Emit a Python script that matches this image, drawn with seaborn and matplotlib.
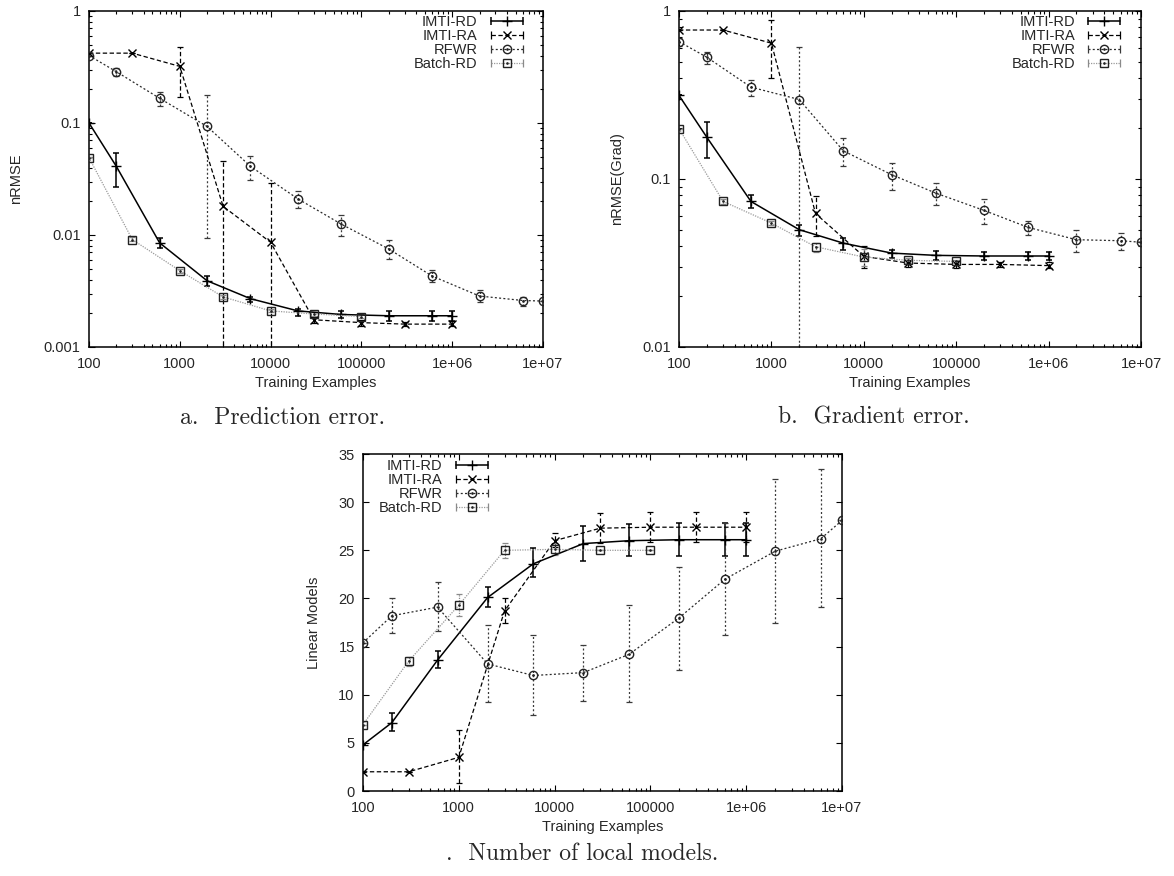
import numpy as np
import pandas as pd
import seaborn as sns
from matplotlib import pyplot as plt
from matplotlib.lines import Line2D
from matplotlib.legend_handler import HandlerLine2D
from matplotlib.ticker import FixedLocator, FixedFormatter, LogLocator, NullFormatter, NullLocator

# training set sizes for each method
X_RD = [100, 200, 600, 2000, 6000, 20000, 60000, 200000, 600000, 1e6]
X_RA = [100, 300, 1000, 3000, 10000, 30000, 100000, 300000, 1e6]
X_RFWR = [100, 200, 600, 2000, 6000, 20000, 60000, 200000, 600000, 2e6, 6e6, 1e7]
X_BATCH = [100, 300, 1000, 3000, 10000, 30000, 100000]

# a. prediction error (nRMSE)
A_RD = [0.1, 0.041, 0.0085, 0.0039, 0.0027, 0.0021, 0.00195, 0.0019, 0.0019, 0.0019]
A_RD_LO = [0.1, 0.027, 0.0076, 0.0035, 0.0025, 0.0019, 0.0018, 0.0017, 0.0017, 0.0017]
A_RD_HI = [0.1, 0.054, 0.0094, 0.0043, 0.0028, 0.0022, 0.0021, 0.0021, 0.0021, 0.0021]
A_RA = [0.42, 0.42, 0.32, 0.018, 0.0086, 0.00175, 0.00165, 0.0016, 0.0016]
A_RA_LO = [0.42, 0.42, 0.172, 0.0009, 0.0009, 0.00165, 0.00155, 0.00155, 0.00153]
A_RA_HI = [0.42, 0.42, 0.474, 0.046, 0.029, 0.00185, 0.00175, 0.00168, 0.0017]
A_RFWR = [0.40, 0.287, 0.166, 0.093, 0.041, 0.021, 0.0125, 0.0075, 0.0043, 0.00285, 0.0026, 0.00257]
A_RFWR_LO = [0.40, 0.26, 0.142, 0.0094, 0.031, 0.0174, 0.0098, 0.0061, 0.0038, 0.0025, 0.0023, 0.00257]
A_RFWR_HI = [0.40, 0.31, 0.19, 0.178, 0.051, 0.0245, 0.0151, 0.009, 0.0049, 0.0032, 0.0028, 0.00257]
A_BATCH = [0.049, 0.0091, 0.0048, 0.0028, 0.0021, 0.00197, 0.00187]
A_BATCH_LO = [0.049, 0.0088, 0.0046, 0.0027, 0.00205, 0.0019, 0.0018]
A_BATCH_HI = [0.05, 0.0095, 0.005, 0.0029, 0.0022, 0.00205, 0.00195]

# b. gradient error
B_RD = [0.314, 0.177, 0.0735, 0.0499, 0.0415, 0.0362, 0.0351, 0.0348, 0.0348, 0.0348]
B_RD_LO = [0.314, 0.133, 0.067, 0.046, 0.0377, 0.034, 0.033, 0.033, 0.033, 0.033]
B_RD_HI = [0.314, 0.218, 0.08, 0.053, 0.0445, 0.038, 0.0375, 0.037, 0.037, 0.037]
B_RA = [0.77, 0.77, 0.643, 0.0623, 0.0346, 0.0316, 0.031, 0.031, 0.0305]
B_RA_LO = [0.77, 0.77, 0.40, 0.046, 0.0296, 0.030, 0.0295, 0.0298, 0.0295]
B_RA_HI = [0.77, 0.77, 0.88, 0.079, 0.0397, 0.033, 0.0325, 0.0322, 0.032]
B_RFWR = [0.657, 0.53, 0.352, 0.297, 0.147, 0.106, 0.0824, 0.065, 0.0515, 0.0435, 0.0429, 0.042]
B_RFWR_LO = [0.62, 0.484, 0.312, 0.009, 0.12, 0.086, 0.07, 0.054, 0.0464, 0.037, 0.038, 0.042]
B_RFWR_HI = [0.69, 0.573, 0.389, 0.614, 0.175, 0.125, 0.094, 0.076, 0.0565, 0.05, 0.0475, 0.042]
B_BATCH = [0.199, 0.0735, 0.0546, 0.0395, 0.0343, 0.0328, 0.0323]
B_BATCH_LO = [0.199, 0.071, 0.053, 0.037, 0.0305, 0.0318, 0.0315]
B_BATCH_HI = [0.199, 0.076, 0.0565, 0.0415, 0.0385, 0.034, 0.033]

# c. number of local models
C_RD = [4.8, 7.1, 13.6, 20.1, 23.6, 25.7, 26.0, 26.1, 26.1, 26.1]
C_RD_LO = [4.8, 6.2, 12.8, 19.1, 22.2, 23.9, 24.4, 24.4, 24.4, 24.4]
C_RD_HI = [4.8, 8.1, 14.5, 21.2, 25.2, 27.5, 27.7, 27.8, 27.8, 27.8]
C_RA = [2.0, 2.0, 3.5, 18.7, 26.0, 27.3, 27.4, 27.4, 27.4]
C_RA_LO = [2.0, 2.0, 0.8, 17.4, 25.3, 25.8, 25.9, 25.9, 25.9]
C_RA_HI = [2.0, 2.0, 6.3, 20.0, 26.8, 28.9, 29.0, 29.0, 29.0]
C_RFWR = [15.4, 18.2, 19.1, 13.2, 12.0, 12.3, 14.2, 18.0, 22.0, 24.9, 26.2, 28.1]
C_RFWR_LO = [15.4, 16.4, 16.6, 9.2, 7.9, 9.4, 9.2, 12.6, 16.2, 17.4, 19.1, 28.1]
C_RFWR_HI = [15.4, 20.0, 21.7, 17.2, 16.2, 15.2, 19.3, 23.3, 27.8, 32.4, 33.4, 28.1]
C_BATCH = [6.9, 13.5, 19.3, 25.0, 25.1, 25.0, 25.0]
C_BATCH_LO = [6.9, 13.0, 18.2, 24.2, 24.5, 25.0, 25.0]
C_BATCH_HI = [6.9, 13.9, 20.5, 25.8, 25.8, 25.0, 25.0]

NAMES = ['IMTI-RD', 'IMTI-RA', 'RFWR', 'Batch-RD']
X_TICKS = [100, 1000, 10000, 100000, 1e6, 1e7]
X_TICKLABELS = ['100', '1000', '10000', '100000', '1e+06', '1e+07']

sns.set_style('ticks')
plt.rcParams['font.family'] = ['Liberation Sans', 'DejaVu Sans']

# line / marker style per method (gnuplot-ish)
STYLES = {
    'IMTI-RD': dict(color='black', ecolor='black', ls='-', lw=1.1, marker='+', ms=7, dot=False),
    'IMTI-RA': dict(color='black', ecolor='black', ls=(0, (3.5, 2)), lw=0.9, marker='x', ms=6, dot=False),
    'RFWR': dict(color='#2a2a2a', ecolor='#3a3a3a', ls=(0, (1.6, 1.8)), lw=0.9, marker='o', ms=6, dot=True),
    'Batch-RD': dict(color='#9a9a9a', ecolor='#8a8a8a', ls=(0, (1, 1)), lw=0.9, marker='s', ms=6, dot=True),
}


def draw_series(ax, name, x, y, lo, hi):
    st = STYLES[name]
    df = pd.DataFrame({'n': x, 'v': y})
    sns.lineplot(data=df, x='n', y='v', ax=ax, estimator=None, sort=False,
                 color=st['color'], linestyle=st['ls'], linewidth=st['lw'],
                 marker=st['marker'], markersize=st['ms'], markerfacecolor='none',
                 markeredgecolor='#222222' if st['dot'] else 'black', markeredgewidth=1.0,
                 legend=False, zorder=3)
    if st['dot']:
        ax.plot(x, y, ls='none', marker='.', ms=1.8, color='#222222', zorder=4)
    y = np.array(y)
    yerr = [y - np.array(lo), np.array(hi) - y]
    eb = ax.errorbar(x, y, yerr=yerr, fmt='none', ecolor=st['ecolor'],
                     elinewidth=st['lw'], capsize=2, capthick=st['lw'], zorder=2)
    eb.lines[2][0].set_linestyle(st['ls'])


def legend_handles():
    handles, hmap = [], {}
    for name in NAMES:
        st = STYLES[name]
        caps = Line2D([], [], color=st['color'], ls=st['ls'], lw=st['lw'],
                      marker='|', ms=6, mec=st['ecolor'], mew=st['lw'])
        mk = Line2D([], [], ls='none', marker=st['marker'], ms=st['ms'], mfc='none',
                    mec='#222222' if st['dot'] else 'black', mew=1.0)
        parts = [caps, mk]
        hmap[caps] = HandlerLine2D(numpoints=2)
        hmap[mk] = HandlerLine2D(numpoints=1)
        if st['dot']:
            dt = Line2D([], [], ls='none', marker='.', ms=1.8, color='#222222')
            hmap[dt] = HandlerLine2D(numpoints=1)
            parts.append(dt)
        handles.append(tuple(parts))
    return handles, hmap


def style_axes(ax, ylabel, log_y, label_x):
    ax.set_xscale('log')
    ax.set_xlim(100, 1e7)
    ax.xaxis.set_major_locator(FixedLocator(X_TICKS))
    ax.xaxis.set_major_formatter(FixedFormatter(X_TICKLABELS))
    ax.xaxis.set_minor_locator(LogLocator(base=10, subs=np.arange(2, 10)))
    ax.xaxis.set_minor_formatter(NullFormatter())
    if log_y:
        ax.yaxis.set_minor_locator(LogLocator(base=10, subs=np.arange(2, 10)))
        ax.yaxis.set_minor_formatter(NullFormatter())
    else:
        ax.yaxis.set_minor_locator(NullLocator())
    ax.tick_params(which='both', direction='in', top=True, right=True, width=0.8, color='black')
    ax.tick_params(which='major', length=4.5, labelsize=10.5)
    ax.tick_params(which='minor', length=2.5)
    ax.tick_params(axis='x', which='major', pad=7)
    ax.tick_params(axis='y', which='major', pad=6)
    for sp in ax.spines.values():
        sp.set_linewidth(1.1)
        sp.set_color('black')
    ax.set_xlabel('Training Examples', fontsize=10.5)
    ax.set_ylabel(ylabel, fontsize=10.5)
    ax.xaxis.set_label_coords(0.5, -0.085)
    ax.yaxis.set_label_coords(label_x, 0.5)


fig = plt.figure(figsize=(11.74, 8.76), dpi=100)
ax_a = fig.add_axes([0.0758, 0.6039, 0.3867, 0.3836])
ax_b = fig.add_axes([0.5784, 0.6039, 0.3935, 0.3836])
ax_c = fig.add_axes([0.3092, 0.0970, 0.4080, 0.3847])

panels = [
    (ax_a, [(X_RD, A_RD, A_RD_LO, A_RD_HI), (X_RA, A_RA, A_RA_LO, A_RA_HI),
            (X_RFWR, A_RFWR, A_RFWR_LO, A_RFWR_HI), (X_BATCH, A_BATCH, A_BATCH_LO, A_BATCH_HI)]),
    (ax_b, [(X_RD, B_RD, B_RD_LO, B_RD_HI), (X_RA, B_RA, B_RA_LO, B_RA_HI),
            (X_RFWR, B_RFWR, B_RFWR_LO, B_RFWR_HI), (X_BATCH, B_BATCH, B_BATCH_LO, B_BATCH_HI)]),
    (ax_c, [(X_RD, C_RD, C_RD_LO, C_RD_HI), (X_RA, C_RA, C_RA_LO, C_RA_HI),
            (X_RFWR, C_RFWR, C_RFWR_LO, C_RFWR_HI), (X_BATCH, C_BATCH, C_BATCH_LO, C_BATCH_HI)]),
]
for ax, series in panels:
    for name, (x, y, lo, hi) in zip(NAMES, series):
        draw_series(ax, name, x, y, lo, hi)

ax_a.set_yscale('log')
ax_a.set_ylim(0.001, 1)
ax_a.yaxis.set_major_locator(FixedLocator([0.001, 0.01, 0.1, 1]))
ax_a.yaxis.set_major_formatter(FixedFormatter(['0.001', '0.01', '0.1', '1']))
style_axes(ax_a, 'nRMSE', True, -0.145)

ax_b.set_yscale('log')
ax_b.set_ylim(0.01, 1)
ax_b.yaxis.set_major_locator(FixedLocator([0.01, 0.1, 1]))
ax_b.yaxis.set_major_formatter(FixedFormatter(['0.01', '0.1', '1']))
style_axes(ax_b, 'nRMSE(Grad)', True, -0.12)

ax_c.set_ylim(0, 35)
ax_c.yaxis.set_major_locator(FixedLocator(list(range(0, 36, 5))))
style_axes(ax_c, 'Linear Models', False, -0.088)

handles, hmap = legend_handles()
leg_kw = dict(frameon=False, fontsize=10.5, handlelength=2.8, handletextpad=0.6,
              labelspacing=0.0, borderpad=0, borderaxespad=0, markerfirst=False)
ax_a.legend(handles, NAMES, handler_map=hmap, loc='upper right',
            bbox_to_anchor=(0.965, 0.988), **leg_kw)
ax_b.legend(handles, NAMES, handler_map=hmap, loc='upper right',
            bbox_to_anchor=(0.965, 0.988), **leg_kw)
ax_c.legend(handles, NAMES, handler_map=hmap, loc='upper left',
            bbox_to_anchor=(0.033, 0.985), **leg_kw)

cap_kw = dict(ha='center', va='center', fontsize=17, family=['cmr10', 'DejaVu Serif'])
fig.text(0.241, 0.523, 'a.  Prediction error.', **cap_kw)
fig.text(0.744, 0.523, 'b.  Gradient error.', **cap_kw)
fig.text(0.496, 0.025, '.  Number of local models.', **cap_kw)

fig.savefig('out.png', dpi=100)
